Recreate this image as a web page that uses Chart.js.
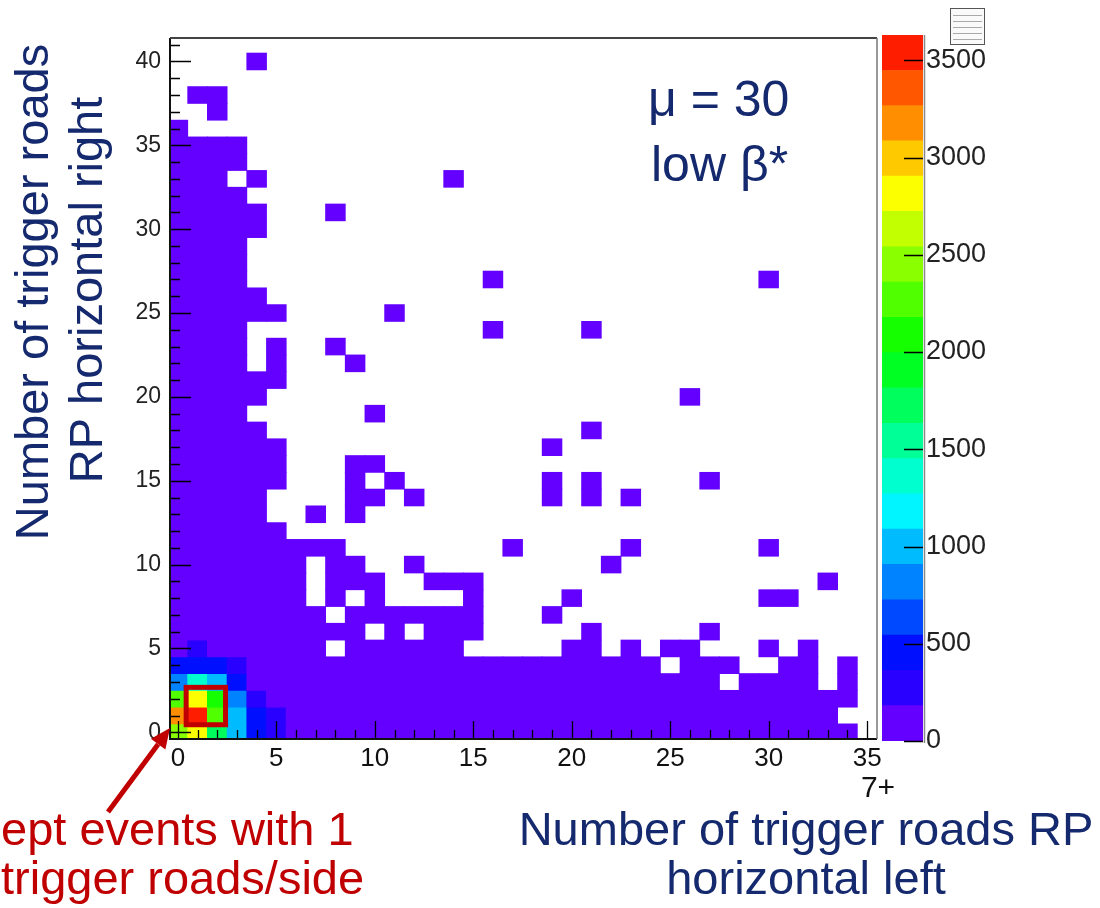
<!DOCTYPE html>
<html>
<head>
<meta charset="utf-8">
<script src="https://cdn.jsdelivr.net/npm/chart.js@4.4.0/dist/chart.umd.min.js"></script>
<style>
  html, body { margin: 0; padding: 0; background: #fff; }
  #wrap { position: relative; width: 1100px; height: 908px; overflow: hidden; }
  #main { position: absolute; left: 0; top: 0; }
  #zbar { position: absolute; left: 870px; top: 0; }
</style>
</head>
<body>
<div id="wrap">
  <canvas id="main" width="1100" height="908"></canvas>
  <canvas id="zbar" width="230" height="908"></canvas>
</div>
<script>
// ---- axis ticks ----
const xTicks = [0, 5, 10, 15, 20, 25, 30, 35];
const yTicks = [0, 5, 10, 15, 20, 25, 30, 35, 40];
const zTicks = [0, 500, 1000, 1500, 2000, 2500, 3000, 3500];
const zMax = 3630;
const nLevels = 20;

// ---- occupied bins per row (index = right-arm road count), as left-arm counts / ranges ----
const rowRuns = [
  "0-34",                          // 0
  "0-33",                          // 1
  "0-34",                          // 2
  "0-27 29-32 34",                 // 3
  "0-24 26-28 31-32 34",           // 4
  "0-7 9-14 20-21 23 25-26 30 32", // 5
  "0-9 11 13-15 21 27",            // 6
  "0-7 9-15 19",                   // 7
  "0-6 8 10 15 20 30-31",          // 8
  "0-6 8-10 13-15 33",             // 9
  "0-6 8-9 12 22",                 // 10
  "0-8 17 23 30",                  // 11
  "0-5",                           // 12
  "0-4 7 9",                       // 13
  "0-4 9-10 12 19 21 23",          // 14
  "0-5 9 11 19 21 27",             // 15
  "0-5 9-10",                      // 16
  "0-5 19",                        // 17
  "0-4 21",                        // 18
  "0-3 10",                        // 19
  "0-4 26",                        // 20
  "0-5",                           // 21
  "0-3 5 9",                       // 22
  "0-3 5 8",                       // 23
  "0-3 16 21",                     // 24
  "0-5 11",                        // 25
  "0-4",                           // 26
  "0-3 16 30",                     // 27
  "0-3",                           // 28
  "0-3",                           // 29
  "0-4",                           // 30
  "0-4 8",                         // 31
  "0-3",                           // 32
  "0-2 4 14",                      // 33
  "0-3",                           // 34
  "0-3",                           // 35
  "0",                             // 36
  "2",                             // 37
  "1-2",                           // 38
  "",                              // 39
  "4"                              // 40
];
// entries of these sparse bins all sit in the lowest contour band
const faintCount = 40;

// ---- populated core near the origin ----
const coreX      = [0,    1,    2,    3,    4,   5,   0,    1,    2,    3,    4,   5,   0,    1,    2,    3,   4,   0,   1,    2,    3,   0,   1,   2,   3,   1];
const coreY      = [0,    0,    0,    0,    0,   0,   1,    1,    1,    1,    1,   1,   2,    2,    2,    2,   2,   3,   3,    3,    3,   4,   4,   4,   4,   5];
const coreCounts = [2500, 2800, 1700, 950,  500, 230, 3200, 3560, 2350, 1050, 450, 250, 2250, 2850, 2000, 900, 330, 850, 1350, 1050, 430, 420, 450, 400, 330, 250];

// ---- colour palette (rainbow, violet -> red, 20 contours) ----
function levelColor(level) {
  const hue = 270 * (1 - (level + 0.5) / nLevels);
  return 'hsl(' + hue.toFixed(2) + ',100%,50%)';
}
function colorFor(v) {
  const lvl = Math.max(0, Math.min(nLevels - 1, Math.floor(v / (zMax / nLevels))));
  return levelColor(lvl);
}

// ---- build the bin list ----
const cells = [];
const cellIndex = new Map();
rowRuns.forEach((runs, y) => {
  runs.split(' ').filter(Boolean).forEach(tok => {
    const parts = tok.split('-').map(Number);
    const a = parts[0], b = parts.length > 1 ? parts[1] : parts[0];
    for (let x = a; x <= b; x++) {
      cellIndex.set(x + ',' + y, cells.length);
      cells.push({ x: x, y: y, v: faintCount });
    }
  });
});
coreX.forEach((x, i) => {
  const key = x + ',' + coreY[i];
  if (cellIndex.has(key)) cells[cellIndex.get(key)].v = coreCounts[i];
  else cells.push({ x: x, y: coreY[i], v: coreCounts[i] });
});

const NAVY = '#15296e';
const DARKRED = '#c00000';
const SANS = "'Liberation Sans', Arial, sans-serif";

// ticks drawn inside the frame, ROOT style, plus the frame itself
const framePlugin = {
  id: 'frame',
  afterDatasetsDraw(chart) {
    const { ctx, chartArea: a } = chart;
    const xs = chart.scales.x, ys = chart.scales.y;
    ctx.save();
    ctx.strokeStyle = '#000';
    ctx.lineWidth = 1.3;
    ctx.beginPath();
    for (let v = Math.ceil(xs.min); v <= Math.floor(xs.max); v++) {
      const px = Math.round(xs.getPixelForValue(v)) + 0.5;
      const len = v % 5 === 0 ? 18 : 9;
      ctx.moveTo(px, a.bottom); ctx.lineTo(px, a.bottom - len);
    }
    for (let v = Math.ceil(ys.min); v <= Math.floor(ys.max); v++) {
      const py = Math.round(ys.getPixelForValue(v)) + 0.5;
      const len = v % 5 === 0 ? 21 : 10;
      ctx.moveTo(a.left, py); ctx.lineTo(a.left + len, py);
    }
    ctx.stroke();
    // frame
    ctx.lineWidth = 2;
    ctx.strokeStyle = '#111';
    ctx.beginPath();
    ctx.moveTo(a.left, a.top); ctx.lineTo(a.left, a.bottom); ctx.lineTo(a.right, a.bottom);
    ctx.stroke();
    ctx.strokeStyle = '#444';
    ctx.beginPath();
    ctx.moveTo(a.left, a.top); ctx.lineTo(a.right, a.top);
    ctx.stroke();
    ctx.strokeStyle = '#777';
    ctx.lineWidth = 1.5;
    ctx.beginPath();
    ctx.moveTo(a.right, a.top); ctx.lineTo(a.right, a.bottom);
    ctx.stroke();
    ctx.restore();
  },
  afterDraw(chart) {
    const { ctx } = chart;
    const xs = chart.scales.x, ys = chart.scales.y;
    ctx.save();
    // box around the selected (1,1)-(2,2) bins
    const bx0 = xs.getPixelForValue(0.42), bx1 = xs.getPixelForValue(2.42);
    const by0 = ys.getPixelForValue(2.68), by1 = ys.getPixelForValue(0.45);
    ctx.strokeStyle = DARKRED;
    ctx.lineWidth = 5;
    ctx.strokeRect(bx0, by0, bx1 - bx0, by1 - by0);

    // arrow pointing at the selected bins
    const tipX = xs.getPixelForValue(-0.4), tipY = ys.getPixelForValue(0.25);
    const tailX = 108, tailY = 812;
    const ang = Math.atan2(tipY - tailY, tipX - tailX);
    const head = 20, hw = 9;
    const baseX = tipX - head * Math.cos(ang), baseY = tipY - head * Math.sin(ang);
    ctx.lineWidth = 5;
    ctx.lineCap = 'butt';
    ctx.beginPath(); ctx.moveTo(tailX, tailY); ctx.lineTo(baseX, baseY); ctx.stroke();
    ctx.fillStyle = DARKRED;
    ctx.beginPath();
    ctx.moveTo(tipX, tipY);
    ctx.lineTo(baseX + hw * Math.sin(ang), baseY - hw * Math.cos(ang));
    ctx.lineTo(baseX - hw * Math.sin(ang), baseY + hw * Math.cos(ang));
    ctx.closePath(); ctx.fill();

    // axis titles
    ctx.fillStyle = NAVY;
    ctx.font = '47px ' + SANS;
    ctx.textAlign = 'center';
    ctx.textBaseline = 'alphabetic';
    ctx.fillText('Number of trigger roads RP', 806, 845);
    ctx.fillText('horizontal left', 806, 894);
    ctx.save(); ctx.translate(48, 292); ctx.rotate(-Math.PI / 2);
    ctx.fillText('Number of trigger roads', 0, 0); ctx.restore();
    ctx.save(); ctx.translate(102, 290); ctx.rotate(-Math.PI / 2);
    ctx.fillText('RP horizontal right', 0, 0); ctx.restore();

    // selection caption
    ctx.fillStyle = DARKRED;
    ctx.textAlign = 'left';
    ctx.fillText('ept events with 1', 1, 845);
    ctx.fillText('trigger roads/side', 1, 894);

    // run conditions
    ctx.fillStyle = NAVY;
    ctx.font = '50px ' + SANS;
    ctx.fillText('\u03bc = 30', 648, 116);
    ctx.fillText('low \u03b2*', 651, 181);

    // overflow marker under the last x label
    ctx.fillStyle = '#111';
    ctx.font = '30px ' + SANS;
    ctx.textAlign = 'center';
    ctx.fillText('7+', 878, 797);
    ctx.restore();
  }
};

new Chart(document.getElementById('main'), {
  type: 'bar',
  data: {
    datasets: [{
      data: cells.map(c => ({ x: c.x, y: [c.y - 0.5, c.y + 0.5], v: c.v })),
      backgroundColor: ctx => colorFor(ctx.raw ? ctx.raw.v : 0),
      borderWidth: 0,
      barPercentage: 1,
      categoryPercentage: 1,
      grouped: false,
      inflateAmount: 0.4
    }]
  },
  options: {
    responsive: false,
    animation: false,
    devicePixelRatio: 1,
    layout: { padding: { left: 110, top: 38, right: 223, bottom: 129 } },
    plugins: { legend: { display: false }, tooltip: { enabled: false } },
    scales: {
      x: {
        type: 'linear', min: -0.4, max: 35.5, offset: false,
        grid: { display: false, drawTicks: false }, border: { display: false },
        afterBuildTicks: s => { s.ticks = xTicks.map(v => ({ value: v })); },
        afterFit: s => { s.height = 40; },
        ticks: {
          font: { family: "'Liberation Sans Narrow', 'Liberation Sans', Arial", size: 26 },
          color: '#111', padding: 4, maxRotation: 0, autoSkip: false,
          callback: v => String(v)
        }
      },
      y: {
        type: 'linear', min: -0.4, max: 41.4,
        grid: { display: false, drawTicks: false }, border: { display: false },
        afterBuildTicks: s => { s.ticks = yTicks.map(v => ({ value: v })); },
        afterFit: s => { s.width = 60; },
        ticks: { font: { family: SANS, size: 23 }, color: '#222', padding: 9, autoSkip: false,
                 callback: v => String(v) }
      }
    }
  },
  plugins: [framePlugin]
});

// ---- colour scale ----
const zbarPlugin = {
  id: 'zbarTicks',
  afterDatasetsDraw(chart) {
    const { ctx, chartArea: a } = chart;
    const ys = chart.scales.y;
    ctx.save();
    ctx.strokeStyle = '#000';
    ctx.lineWidth = 1.3;
    ctx.beginPath();
    zTicks.forEach(v => {
      const py = Math.round(ys.getPixelForValue(v)) + 0.5;
      ctx.moveTo(a.right - 19, py); ctx.lineTo(a.right, py);
    });
    ctx.stroke();
    ctx.strokeStyle = '#888';
    ctx.lineWidth = 1.5;
    ctx.beginPath();
    ctx.moveTo(a.right + 1.5, a.top); ctx.lineTo(a.right + 1.5, a.bottom + 2);
    ctx.stroke();
    // small stats pad above the scale
    ctx.fillStyle = '#fafafa';
    ctx.fillRect(80, 8, 34, 36);
    ctx.strokeStyle = '#555';
    ctx.lineWidth = 1;
    ctx.strokeRect(80.5, 8.5, 34, 36);
    ctx.strokeStyle = '#aaa';
    ctx.beginPath();
    for (let i = 0; i < 5; i++) {
      const yy = 15.5 + i * 6;
      ctx.moveTo(83, yy); ctx.lineTo(112, yy);
    }
    ctx.stroke();
    ctx.restore();
  }
};

const zBand = zMax / nLevels;
new Chart(document.getElementById('zbar'), {
  type: 'bar',
  data: {
    labels: ['z'],
    datasets: Array.from({ length: nLevels }, (_, i) => ({
      data: [zBand],
      backgroundColor: levelColor(i),
      borderWidth: 0,
      barPercentage: 1,
      categoryPercentage: 1,
      inflateAmount: 0.4
    }))
  },
  options: {
    responsive: false,
    animation: false,
    devicePixelRatio: 1,
    layout: { padding: { left: 12, top: 35, right: 97, bottom: 167 } },
    plugins: { legend: { display: false }, tooltip: { enabled: false } },
    scales: {
      x: { stacked: true, display: false },
      y: {
        stacked: true, min: 0, max: zMax, position: 'right',
        grid: { display: false, drawTicks: false }, border: { display: false },
        afterBuildTicks: s => { s.ticks = zTicks.map(v => ({ value: v })); },
        afterFit: s => { s.width = 80; },
        ticks: { font: { family: SANS, size: 27 }, color: '#222', padding: 3, autoSkip: false,
                 callback: v => String(v) }
      }
    }
  },
  plugins: [zbarPlugin]
});
</script>
</body>
</html>
